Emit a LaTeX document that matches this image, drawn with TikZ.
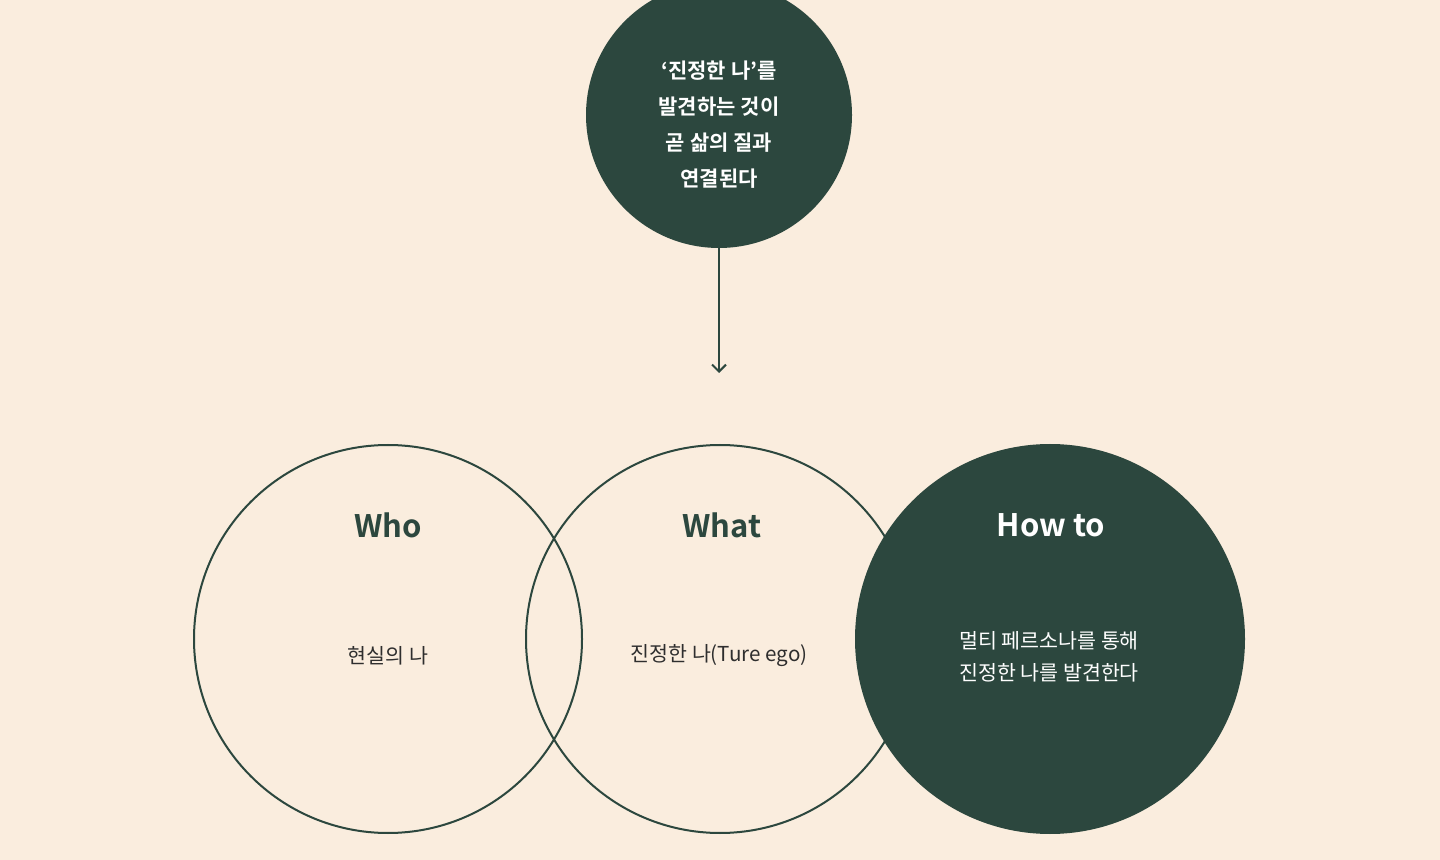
\documentclass[tikz,border=0pt]{standalone}
\usepackage{fontspec}
\setmainfont{Noto Sans CJK KR}
\newfontfamily\boldkr{Noto Sans CJK KR Bold}
\usetikzlibrary{arrows.meta}
\definecolor{paper}{HTML}{FAEDDE}
\definecolor{forest}{HTML}{2C473E}
\definecolor{ink}{HTML}{2E2E2E}
\tikzset{
  ring/.style={circle, draw=forest, line width=1pt, inner sep=0pt, minimum size=194pt},
  disc/.style={circle, fill=forest, inner sep=0pt},
  heading/.style={font=\boldkr\fontsize{15.5}{18}\selectfont},
  body/.style={font=\fontsize{10.3}{16}\selectfont, text=ink, align=center}
}

\begin{document}
\begin{tikzpicture}[x=0.5pt, y=-0.5pt]
    \fill[paper] (0, 0) rectangle (1440, 860);
    \useasboundingbox (0, 0) rectangle (1440, 860);
    \clip (0, 0) rectangle (1440, 860);

    % top statement
    \node[disc, minimum size=133pt] (core) at (719, 115) {};
    \node[font=\boldkr\fontsize{10.5}{18}\selectfont, text=white, align=center] (coretext) at (719, 125)
        {‘진정한 나’를\\발견하는 것이\\곧 삶의 질과\\연결된다};
    \coordinate (tip) at (719, 373);
    \draw[-{Straight Barb[width=7pt, length=3.5pt]}, forest, line width=1pt] (core.south) -- (tip);

    % three circles
    \node[ring] (who) at (388, 639) {};
    \node[ring] (what) at (720, 639) {};
    \node[disc, minimum size=195pt] (how) at (1050, 639) {};

    \node[heading, text=forest] (whoT) at (388, 525) {Who};
    \node[heading, text=forest] (whatT) at (722, 525) {What};
    \node[heading, text=white] (howT) at (1051, 525) {How to};

    \node[body] (whoB) at (388, 656) {현실의 나};
    \node[body] (whatB) at (719, 656) {진정한 나(Ture ego)};
    \node[body, text=white] (howB) at (1049, 657) {멀티 페르소나를 통해\\진정한 나를 발견한다};
\end{tikzpicture}
\end{document}
